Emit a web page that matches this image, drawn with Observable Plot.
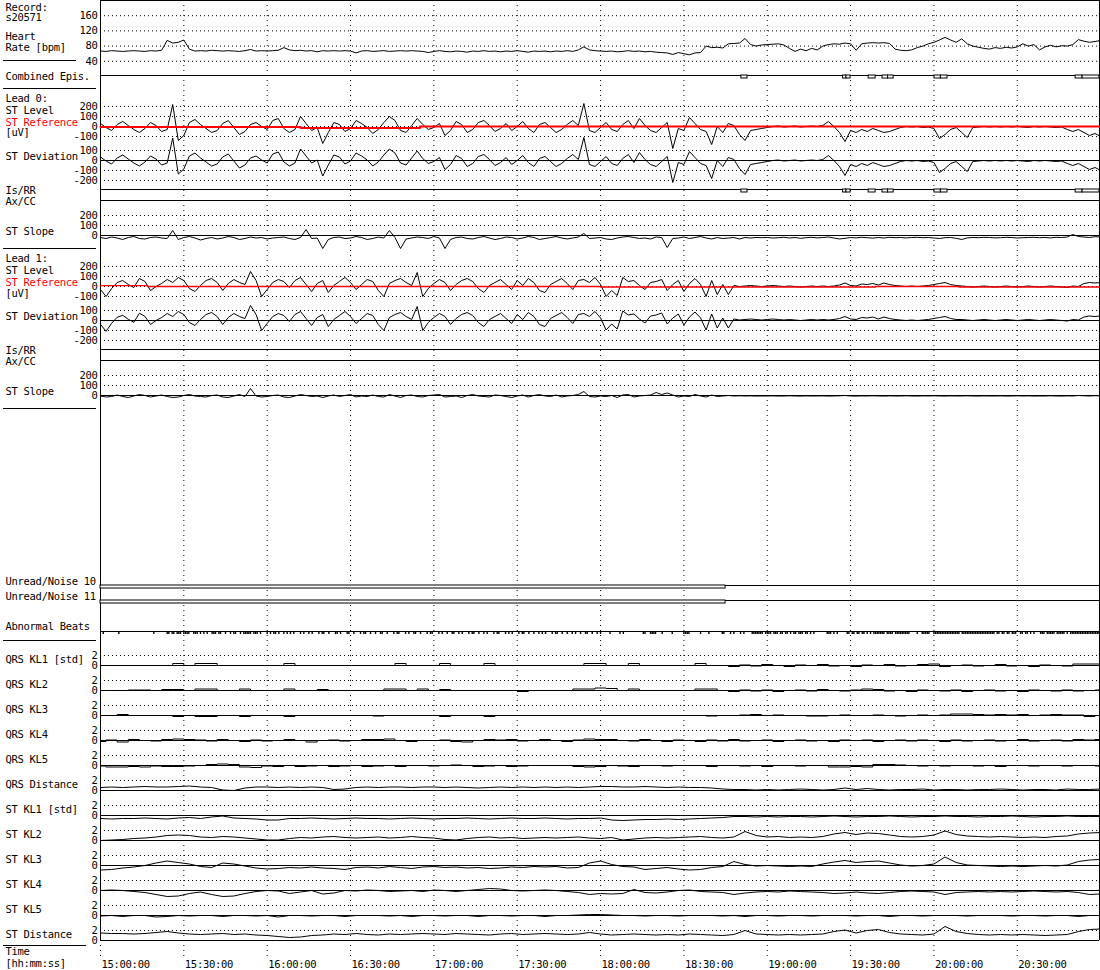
<!DOCTYPE html>
<html><head><meta charset="utf-8">
<script src="https://cdn.jsdelivr.net/npm/d3@7"></script>
<script src="https://cdn.jsdelivr.net/npm/@observablehq/plot@0.6"></script>
<style>
html,body{margin:0;padding:0;background:#fff;}
#chart{position:relative;width:1100px;height:970px;overflow:hidden;}
#chart svg{position:absolute;left:0;overflow:visible;background:transparent;}
</style></head><body><div id="chart"></div>
<script>
// ---------------- DATA ----------------
// time axis: minutes after 15:00:00
const TIME_TICKS = [0,30,60,90,120,150,180,210,240,270,300,330];
const TIME_TICK_LABELS = ["15:00:00","15:30:00","16:00:00","16:30:00","17:00:00","17:30:00","18:00:00","18:30:00","19:00:00","19:30:00","20:00:00","20:30:00"];
const TIME_END = 359.6;

// Heart rate [bpm], one value every 2 min
const HR_STEP = 2;
const HR_BPM = [
67,66,68,67,66,67,68,67,66,68, 67,69,95,88,90,96,72,67,68,67,
69,68,67,68,67,66,68,71,67,68, 67,68,69,76,70,68,69,67,68,65,
68,67,68,67,68,67,62,67,68,66, 67,68,66,67,68,67,68,67,66,63,
66,68,66,65,67,66,64,67,66,68, 66,67,65,67,66,68,66,64,67,66,
67,65,67,66,68,66,70,78,70,68, 67,66,67,65,66,68,66,67,65,66,
64,63,62,58,63,60,57,62,63,80, 76,77,75,86,87,88,100,84,80,83,
84,85,86,83,74,66,72,68,74,70, 80,84,86,85,88,86,69,86,88,89,
88,89,87,72,69,68,70,76,80,86, 90,96,103,96,90,99,86,80,77,74,
72,76,74,77,75,78,86,80,84,70, 78,82,78,81,80,84,97,93,90,92,
95];

// Combined episodes (also Lead 0 Is/RR Ax/CC), [start, end] minutes
const EPISODES = [[230.7,232.9],[267.3,268.5],[268.5,270],[276.5,279],[281.5,283.5],[283.5,285.5],[300.2,302.5],[302.5,304.9],[351,353.5],[353.5,359.6]];

// Lead 0 ST level [uV], every 2 min
const ST_STEP = 2;
const L0_ST_LEVEL = [
30,-10,-40,20,50,10,-30,-60,-20,40, 10,-50,-30,220,-140,-90,40,70,20,-20,
-60,-40,30,60,-10,-80,-50,20,40,0, -30,60,80,-20,-60,-30,100,30,-40,-10,
-170,-60,40,20,-50,-20,60,30,-10,-70, -30,40,100,60,-40,-60,10,80,20,-30,
-10,30,-90,-40,50,20,-60,-30,40,60, 10,-50,-20,30,-40,0,50,-20,-60,20,
40,-10,-60,-30,20,60,10,230,-40,-60, -10,40,-30,-50,20,60,-20,80,10,-40,
-60,-10,40,-220,-20,-40,90,30,-30,-50, -180,0,-60,30,10,-80,-140,-40,-30,-20,
-10,0,5,-5,0,5,-5,0,5,0, 10,50,0,-60,-150,-40,-60,-30,-50,-20,
-40,-60,-50,-30,-10,0,-5,0,-10,-5, -20,-120,-80,-30,-10,-60,-110,-10,-5,0,
-5,0,-5,0,-5,0,-5,-10,0,-5, 0,-5,-10,-5,-30,-50,-30,-60,-90,-70,
-100];
// Lead 0 ST reference (step changes)
const L0_REF_TIMES = [0,72,115,359.6];
const L0_REF_VALUES = [-5,-15,0,0];
// Lead 0 ST slope, every 2 min
const L0_ST_SLOPE = [
-20,-30,-15,-25,-40,-20,-10,-30,-35,-20, -15,-25,-30,50,-40,-20,-10,-25,-45,-30,
-20,-35,-25,-10,-20,-40,-30,-15,-25,-20, -35,-25,-20,-15,-30,-40,-20,60,-30,-25,
-130,-40,-20,-15,-30,-25,-10,-20,-40,-30, -15,-25,50,-20,-130,-35,-25,-15,-20,-30,
-10,-25,-130,-40,-20,-15,-30,-35,-20,-10, -25,-40,-30,-15,-20,-35,-25,-10,-20,-40,
-30,-20,-10,-25,-35,-25,-15,20,-30,-25, -20,-35,-40,-25,-15,-10,-20,-30,-25,-35,
-15,-20,-120,-30,-25,-15,-30,-20,-10,-25, -35,-20,-30,-25,-20,-35,-20,-25,-20,-22,
-20,-25,-22,-18,-25,-20,-28,-22,-18,-24, -20,-15,-25,-35,-28,-20,-24,-18,-22,-26,
-20,-25,-18,-22,-20,-24,-20,-18,-22,-20, -25,-30,-22,-20,-28,-40,-24,-20,-22,-18,
-20,-24,-22,-18,-20,-25,-22,-20,-18,-22, -20,-24,-18,-20,-15,10,-10,-15,-20,-12,
-15];

// Lead 1 ST level [uV], every 2 min
const L1_ST_LEVEL = [
-30,-100,-20,40,60,20,-10,80,50,-40, 0,30,70,40,90,60,-20,-50,10,60,
80,40,-40,30,70,40,20,150,60,-100, -30,40,70,50,-10,60,90,20,-50,30,
60,-60,10,50,90,40,-30,20,70,50, -40,-100,30,60,80,40,10,140,-100,-20,
30,70,40,-40,20,60,80,50,-20,-60, 10,40,70,20,-30,60,10,80,40,-40,
-60,20,50,80,30,-30,60,70,40,90, 20,-100,-40,-90,90,50,60,10,-30,40,
50,70,-40,20,60,-50,30,80,20,-100, 60,-80,20,-80,10,0,5,10,5,0,
5,10,5,0,5,0,-5,0,5,0, 5,0,5,15,35,10,5,25,20,30,
15,35,20,10,5,0,5,0,5,10, 20,30,40,20,10,5,0,-5,0,5,
0,-5,0,5,0,-5,0,5,0,-5, 0,5,0,-5,-10,5,0,30,40,35,
40];
const L1_REF_TIMES = [0,17,180,279,309,359.6];
const L1_REF_VALUES = [8,0,-5,0,-5,-5];
const L1_ST_SLOPE = [
-5,-15,-10,5,-10,-20,-5,10,0,-15, -5,5,-10,-20,-15,0,10,-5,-10,-15,
0,5,-15,-20,-5,10,-10,70,-5,-15, -10,0,5,-15,-20,-5,10,0,-10,-5,
-20,-5,5,-10,0,10,-15,-5,-10,5, -10,-15,10,-5,-20,0,5,-10,-15,0,
5,10,-15,-10,-5,-20,0,10,-5,-10, -15,5,0,-10,-20,-5,5,-15,0,10,
-5,-10,5,-15,-5,0,10,40,-10,-15, -5,-10,0,-20,5,10,-15,-5,0,5,
30,10,25,5,-15,-5,-10,10,-5,-15, 5,-10,-5,0,-5,-3,-5,-4,-6,-5,
-5,-4,-6,-5,-3,-5,-6,-4,-5,-5, -4,-6,-5,-3,0,-5,-6,-4,-5,-3,
-5,-6,-4,-5,-5,-3,-5,-6,-4,-5, -3,-5,-6,-4,-5,-5,-3,-5,-6,-4,
-5,-5,-4,-6,-5,-3,-5,-4,-6,-5, -5,-3,-5,-6,-4,-5,0,-3,-5,-2,
-4];

// Unread / noise intervals [start, end] minutes
const NOISE_L0 = [[0,225]];
const NOISE_L1 = [[0,225]];

// Abnormal beats, minutes
const ABNORMAL_BEATS = [
1.0,6.6,19.2,24.0,24.6,25.8,26.4,27.6,28.2,28.8,30.0,30.6,31.2,31.8,33.6,34.2,34.8,36.0,37.2,38.4,
40.2,40.8,41.4,42.6,43.2,45.0,46.8,48.0,48.6,50.4,51.6,52.2,52.8,53.4,54.0,55.2,55.8,56.4,57.6,60.0,
61.2,62.4,63.0,64.2,66.0,67.2,68.4,69.6,72.0,73.2,75.0,76.2,78.6,79.8,80.4,82.2,84.6,85.2,86.4,88.8,
89.4,91.2,93.6,94.8,95.4,97.2,99.0,100.8,101.4,103.2,105.6,106.8,107.4,109.8,111.0,112.8,113.4,115.2,117.6,118.8,
119.4,121.8,123.0,124.8,126.6,127.2,129.0,130.2,132.6,133.8,134.4,136.2,138.0,139.2,141.6,142.8,143.4,145.8,147.0,148.2,
150.6,151.8,152.4,154.2,156.0,157.8,159.0,160.2,162.6,163.8,164.4,166.2,168.0,169.8,171.0,172.8,174.6,175.2,177.0,178.8,
180.0,183.4,187.0,188.2,195.4,196.0,198.0,198.6,199.2,199.8,202.2,205.8,210.0,210.6,211.2,211.8,216.0,219.0,223.8,224.4,
226.8,228.0,230.4,231.6,234.6,235.2,235.8,236.4,237.0,237.6,238.2,239.4,240.0,240.6,241.2,242.4,243.0,243.6,244.8,245.4,
246.6,247.2,248.4,249.6,250.2,251.4,252.0,252.6,253.8,254.4,255.6,256.8,261.6,262.2,262.8,264.0,265.2,268.8,269.4,270.6,
271.2,272.4,273.0,274.2,274.8,276.0,277.2,278.4,279.0,279.6,280.2,280.8,281.4,282.0,283.2,283.8,284.4,285.0,286.2,286.8,
287.4,288.0,288.6,289.2,289.8,290.4,291.0,294.0,295.8,296.4,297.0,297.6,298.2,300.0,300.6,301.2,301.8,302.4,303.0,303.6,
304.2,304.8,305.4,306.0,306.6,307.2,307.8,308.4,309.0,310.2,310.8,311.4,312.0,312.6,313.2,313.8,314.4,315.0,315.6,316.2,
316.8,317.4,318.0,318.6,319.2,319.8,320.4,321.0,321.6,322.8,323.4,324.6,325.2,326.4,327.0,328.2,328.8,329.4,331.2,331.8,
333.0,333.6,334.8,336.0,338.4,339.0,339.6,340.8,341.4,342.0,342.6,343.2,344.4,345.0,345.6,346.2,346.8,348.0,349.2,349.8,
350.4,351.0,351.6,352.2,352.8,353.4,354.0,354.6,355.2,355.8,356.4,357.0,357.6,358.2,358.8,359.4];

// KL series [std], every 4 min
const KL_STEP = 4;
const QRS_KL1 = [0,0,0,0,0,0,0,0.4,0,0.4, 0.4,0,0,0,0,0,0,0.4,0,0, 0,0,0,0,0,0,0,0.4,0,0, 0,0.4,0,0,0,0.4,0,0,0,0, 0,0,0,0,0.4,0.4,0,0,0.4,0, 0,0,0,0,0.4,0,0,-0.2,0.1,-0.1, 0.2,0,-0.2,0.1,0,0.2,-0.1,0,-0.2,0.1, 0,0.2,-0.1,0,0.2,0.3,-0.2,0,0.1,-0.1, 0,0.2,-0.1,0,-0.2,0.1,0,-0.1,0.3,0.3, 0.3];
const QRS_KL2 = [0,0,0,0.1,0.1,0,0.2,0.2,0,0.3, 0.3,0,0,0.3,0,0,0,0.3,0,0, 0.2,0,0,0,0,0,0.3,0.3,0,0.3, 0,0.2,0,0,0,0,0,0,-0.2,0, 0,0,0,0.3,0.3,0.5,0.4,0,0.3,0, 0,0,0,0,0.3,0.3,0,-0.2,0.1,-0.1, 0.1,-0.2,0,0.1,-0.1,0.2,0,-0.1,0.1,0.3, 0.2,-0.1,0,-0.2,0.1,0,-0.1,0.1,-0.2,0, 0.1,-0.1,0,-0.2,0.1,0,-0.1,0.1,-0.1,0, 0.1];
const QRS_KL3 = [0,0,0.2,0,0,0,0,-0.2,0,-0.2, -0.2,0,0,-0.2,0,0,0,-0.2,0,0, 0,0,0,0,0,-0.1,0,0,0,0, 0,-0.2,0,0,0,-0.2,0,0,0,0, 0,0,0,0,0,0,0,0,0,0, 0,0,0,0,0,-0.1,0,0,0.1,0.2, 0,0.1,0,0,-0.1,-0.1,0,0.1,0,0, 0.1,0,-0.1,0,0.1,0,0.1,0.3,0.3,0.2, 0.1,0.2,0.1,0.2,0,0.1,0.2,0.1,0.1,-0.2, 0];
const QRS_KL4 = [-0.2,0.1,-0.3,0.2,0,-0.1,0.2,0.3,0.2,0.1, -0.1,0.2,0,-0.2,0.1,-0.1,0,0.2,0,-0.3, 0,0.1,-0.1,0,0.2,0.2,0.3,0,-0.2,0, 0,0.1,-0.2,-0.3,0,0.2,0.1,0.2,-0.1,0, 0.2,0,-0.2,0.1,0.3,0.2,0.2,0,-0.1,0.2, 0,-0.2,0.1,0,-0.2,0.1,-0.1,0.2,-0.1,0, 0.1,-0.2,0,0.1,-0.1,0,-0.2,0.1,0,0.1, -0.2,0,0.1,-0.1,0.1,0,-0.2,0.1,-0.1,0, 0.1,-0.1,0,0.2,-0.1,0,0.1,-0.1,0.2,0.1, 0.2];
const QRS_KL5 = [-0.1,-0.3,-0.3,-0.2,-0.3,-0.1,-0.2,-0.2,-0.1,0, 0.2,0.3,0.2,-0.3,-0.4,-0.1,-0.2,0,-0.2,-0.1, 0,-0.2,-0.1,0,-0.2,-0.1,0,-0.2,0,0, -0.1,0,0.1,0,-0.2,-0.1,0,-0.2,-0.1,0, 0,0,0,-0.2,-0.3,-0.2,0,-0.1,-0.2,0, 0,-0.1,0,0,0,-0.2,0,0,-0.1,0, -0.2,0,0,-0.1,0,0,-0.3,-0.3,-0.2,-0.3, 0.2,0.2,0.1,0,-0.1,0,-0.1,0,0,-0.1, 0,-0.2,0,0,-0.1,0,0,-0.1,0,0, -0.1];
const QRS_DIST = [0.6,0.7,0.6,0.7,0.8,0.7,0.7,0.8,0.9,0.7, 0.6,0.1,0,0.5,0.7,0.7,0.6,0.7,0.6,0.7, 0.6,0.2,0.3,0.6,0.7,0.6,0.7,0.7,0.6,0.7, 0.7,0.6,0.7,0.6,0.5,0.6,0.7,0.6,0.7,0.6, 0.7,0.6,0.7,0.6,0.7,0.8,0.8,0.7,0.7,0.8, 0.7,0.6,0.7,0.6,0.6,0.5,0.3,0.2,0.2,0.1, 0.2,0.1,0.2,0.3,0.2,0.1,0.2,0.5,0.2,0.4, 0.2,0.1,0.2,0.2,0.3,0.1,0.2,0.2,0.1,0.2, 0.2,0.3,0.2,0.1,0.2,0.2,0.1,0.3,0.2,0.2, 0.3];
const ST_KL1 = [-0.6,-0.7,-0.6,-0.6,-0.5,-0.6,-0.7,-0.5,-0.4,-0.6, -0.3,-0.1,-0.5,-0.6,-0.7,-0.9,-0.9,-0.6,-0.6,-0.5, -0.6,-0.7,-0.6,-0.5,-0.6,-0.6,-0.7,-0.6,-0.5,-0.6, -0.7,-0.6,-0.6,-0.5,-0.6,-0.7,-0.6,-0.5,-0.6,-0.6, -0.5,-0.6,-0.7,-0.6,-0.6,-0.5,-0.9,-1.0,-0.9,-0.8, -0.8,-0.7,-0.8,-0.7,-0.6,-0.5,-0.4,-0.2,-0.2,-0.3, -0.2,-0.3,-0.2,-0.2,-0.3,-0.2,-0.1,-0.2,-0.3,-0.2, -0.2,-0.1,-0.2,-0.3,-0.2,-0.2,-0.1,-0.2,-0.2,-0.3, -0.2,-0.2,-0.1,-0.2,-0.3,-0.2,-0.2,-0.1,-0.2,-0.2, -0.2];
const ST_KL2 = [0,0.1,0.2,0.4,0.5,0.7,1.0,1.1,1.0,0.7, 0.6,0.8,0.7,0.5,0.3,0.1,0.1,0.4,0.6,0.5, 0.7,0.8,0.6,0.5,0.6,0.7,0.5,0.6,0.8,0.6, 0.5,0.2,0.1,0.4,0.6,0.7,0.5,0.6,0.4,0.5, 0.6,0.5,0.6,0.7,0.5,0.4,0.6,0.1,0.3,0.5, 0.6,0.5,0.6,0.7,0.8,0.6,0.5,0.7,1.8,1.0, 0.7,0.8,0.6,0.7,0.6,0.8,1.3,1.6,1.2,1.5, 1.4,1.1,0.8,0.7,0.8,1.1,1.9,1.2,0.9,0.8, 0.7,0.8,0.7,0.6,0.7,0.6,0.8,0.9,1.3,1.5, 1.6];
const ST_KL3 = [-0.9,-0.8,-0.5,-0.3,0,0.5,0.9,0.6,0.3,-0.2, -0.4,0.5,0.3,-0.1,-0.5,-0.7,-0.6,-0.4,-0.5,-0.3, -0.5,-0.6,-0.8,-0.4,-0.3,-0.5,-0.2,-0.4,-0.6,-0.3, -0.2,-0.4,-0.3,-0.5,-0.4,-0.6,-0.5,-0.3,-0.4,-0.2, -0.3,-0.2,-0.5,-0.4,0.5,0.9,0.2,-0.2,-0.3,-0.8, -0.6,-0.4,-0.7,-0.9,-0.8,-0.4,-0.2,0.8,0.2,-0.1, 0,-0.1,-0.2,-0.1,-0.2,0.3,0.7,1.0,0.6,0.8, 0.9,0.5,0.1,-0.1,0,0.3,1.7,0.6,0.1,0, -0.1,-0.2,-0.1,-0.2,-0.1,0,-0.1,0.1,0.8,1.1, 1.2];
const ST_KL4 = [0,0.1,0,-0.2,-0.4,-0.8,-1.2,-1.1,-0.6,-0.3, -0.8,-1.2,-1.1,-0.6,-0.2,0,-0.1,-0.6,-0.3,0, -0.7,-0.5,0,-0.1,0.1,0,-0.2,-0.1,0,-0.2, 0.1,0,-0.2,0,0.2,0.4,0.3,0,-0.1,0, 0.1,0,-0.2,-0.4,-0.8,-0.6,-0.7,-0.6,0.2,-0.4, -0.5,-0.3,0,0.1,-0.2,-0.3,-0.4,-0.8,-0.5,-0.3, -0.2,-0.3,-0.1,-0.2,-0.3,-0.4,-0.6,-0.5,-0.3,-0.5, -0.6,-0.4,-0.2,-0.1,-0.2,-0.3,-0.8,-0.4,-0.3,-0.2, -0.3,-0.2,-0.3,-0.2,-0.1,-0.2,-0.3,-0.2,-0.4,-0.8, -0.7];
const ST_KL5 = [-0.1,0,-0.2,0,0,-0.3,-0.2,0,-0.1,0, 0,-0.2,0,0,-0.1,0,-0.3,0,0,-0.1, 0,0,-0.2,0,0,0,-0.1,0,-0.2,0, 0,-0.1,0,0,-0.2,0,0,-0.1,0,0, -0.2,0,0,0.1,0.2,0.2,0.1,0,0,-0.1, 0,0,-0.1,0,0,0,-0.1,0,-0.2,0, 0,-0.1,0,0,-0.1,0,0,0,-0.1,0, 0,-0.2,0,0,-0.1,0,0,0,-0.1,0, 0,0,-0.1,0,0,-0.1,0,0,-0.2,0, 0];
const ST_DIST = [1.5,1.4,1.4,1.3,1.4,1.6,1.8,1.5,1.3,1.2, 1.3,1.4,1.2,1.3,1.1,1.0,0.8,0.6,0.7,1.0, 1.1,1.3,1.2,1.4,1.2,1.1,1.3,1.2,1.3,1.4, 1.3,1.2,1.4,1.3,1.2,1.1,1.3,1.4,1.2,1.3, 1.4,1.3,1.2,1.3,1.6,1.3,1.1,1.2,1.3,1.2, 1.1,1.2,1.1,1.3,1.2,1.1,1.0,1.2,2.0,1.3, 1.2,1.1,1.2,1.1,1.2,1.3,1.8,2.1,1.5,2.0, 2.2,1.6,1.3,1.2,1.1,1.3,2.8,1.8,1.4,1.2, 1.1,1.2,1.1,1.2,1.1,1.0,1.1,1.2,1.8,2.2, 2.3];
const KL_NAMES = ["QRS KL1 [std]","QRS KL2","QRS KL3","QRS KL4","QRS KL5","QRS Distance","ST KL1 [std]","ST KL2","ST KL3","ST KL4","ST KL5","ST Distance"];
const KL_SERIES = [QRS_KL1,QRS_KL2,QRS_KL3,QRS_KL4,QRS_KL5,QRS_DIST,ST_KL1,ST_KL2,ST_KL3,ST_KL4,ST_KL5,ST_DIST];
const KL_IS_QRS = [true,true,true,true,true,false,false,false,false,false,false,false];

// ---------------- LAYOUT (page pixels) ----------------
const FONT_STYLE = {fontFamily: "'DejaVu Sans Mono', monospace", fontSize: "10.5px", letterSpacing: "-0.3px", background: "transparent", overflow: "visible", color: "#000"};
const LEFT_TEXT = [
  ["Record:",7],["s20571",17],["Heart",36],["Rate [bpm]",47],["Combined Epis.",76],
  ["Lead 0:",98],["ST Level",110],["[uV]",132],["ST Deviation",156],["Is/RR",190],["Ax/CC",201],["ST Slope",231],
  ["Lead 1:",258],["ST Level",270],["[uV]",293],["ST Deviation",316],["Is/RR",350],["Ax/CC",361],["ST Slope",391],
  ["Unread/Noise 10",581],["Unread/Noise 11",596],["Abnormal Beats",626],
  ["Time",951],["[hh:mm:ss]",963]
];
const LEFT_RED_TEXT = [["ST Reference",122],["ST Reference",282]];
const SEPARATORS = [[60,76],[88,96],[248,96],[408,96],[640,96],[945,86]];
const KL_ZERO_TOP = 665, KL_SPACING = 25;

// ---------------- DRAW ----------------
const chart = document.getElementById("chart");
function place(svg, top) { svg.style.top = top + "px"; chart.appendChild(svg); }
const xScale = {domain: [0, TIME_END], axis: null};
const base = {width: 1100, marginLeft: 100, marginRight: 1, marginTop: 0, marginBottom: 0, style: FONT_STYLE, x: xScale};
const series = (vals, step) => vals.map((v, i) => ({t: i * step, v}));
const refSeries = (ts, vs) => ts.map((t, i) => ({t, v: vs[i]}));
function refAt(ts, vs, t) { let v = vs[0]; for (let i = 0; i < ts.length; i++) if (ts[i] <= t) v = vs[i]; return v; }

// background: frame and time grid
place(Plot.plot({
  ...base, height: 970, y: {type: "identity", axis: null},
  marks: [
    Plot.ruleX(TIME_TICKS, {y1: 0, y2: 958, stroke: "#000", strokeDasharray: "1,4"}),
    Plot.ruleX([0, TIME_END], {y1: 0, y2: 940, stroke: "#000"}),
    Plot.text(TIME_TICKS, {x: d => d, y: 964, text: (d, i) => TIME_TICK_LABELS[i], textAnchor: "start", dx: 1, fill: "#000"})
  ]
}), 0);

// left labels
place(Plot.plot({
  width: 100, height: 970, margin: 0, style: FONT_STYLE,
  x: {type: "identity", axis: null}, y: {type: "identity", axis: null},
  marks: [
    Plot.text(LEFT_TEXT, {x: 5, y: d => d[1], text: d => d[0], textAnchor: "start", fill: "#000"}),
    Plot.text(LEFT_RED_TEXT, {x: 5, y: d => d[1], text: d => d[0], textAnchor: "start", fill: "#ff0000"}),
    Plot.text(KL_NAMES, {x: 5, y: (d, i) => KL_ZERO_TOP + KL_SPACING * i - 6, text: d => d, textAnchor: "start", fill: "#000"}),
    Plot.ruleY(SEPARATORS, {y: d => d[0], x1: 3, x2: d => d[1], stroke: "#000"})
  ]
}), 0);

function tickLabels(ticks) {
  return Plot.text(ticks, {y: d => d, text: d => String(d), frameAnchor: "left", dx: -3, textAnchor: "end", fill: "#000"});
}
function valuePanel({top, height, domain, ticks, dotted = [], solid = [], marks = []}) {
  place(Plot.plot({
    ...base, height, y: {domain, axis: null},
    marks: [
      Plot.ruleY(dotted, {stroke: "#000", strokeDasharray: "1,3"}),
      Plot.ruleY(solid, {stroke: "#000"}),
      tickLabels(ticks),
      ...marks
    ]
  }), top);
}
function stripPanel({top, height, lines = [0], rects = [], rectH = 3, beats = null}) {
  const marks = [Plot.ruleY(lines, {stroke: "#000"})];
  if (rects.length) marks.push(Plot.rect(rects, {x1: d => d[0], x2: d => d[1], y1: 0, y2: rectH, fill: "#fff", stroke: "#000"}));
  if (beats) marks.push(Plot.ruleX(beats, {y1: 0, y2: rectH, stroke: "#000", strokeWidth: 1.4}));
  place(Plot.plot({...base, height, y: {domain: [0, height], reverse: true, axis: null}, marks}), top);
}
const trace = (data, opts = {}) => Plot.line(data, {x: "t", y: "v", stroke: "#000", strokeWidth: 1, ...opts});

// Heart rate
valuePanel({top: 0, height: 76, domain: [0, 200], ticks: [160, 120, 80, 40], dotted: [160, 120, 80, 40], solid: [200],
  marks: [trace(series(HR_BPM, HR_STEP))]});
// Combined episodes
stripPanel({top: 75, height: 4, rects: EPISODES});

// Lead 0 / Lead 1
function leadPanels(o, level, refT, refV, slope, epis, refW) {
  const lev = series(level, ST_STEP);
  const dev = lev.map(d => ({t: d.t, v: d.v - refAt(refT, refV, d.t)}));
  valuePanel({top: o, height: 35, domain: [-100, 250], ticks: [200, 100, 0, -100], dotted: [200, 100, 0, -100],
    marks: [trace(lev), Plot.line(refSeries(refT, refV), {x: "t", y: "v", stroke: "#ff0000", strokeWidth: refW, curve: "step-after"})]});
  valuePanel({top: o + 49, height: 30, domain: [-200, 100], ticks: [100, 0, -100, -200], dotted: [100, -100, -200], solid: [0],
    marks: [trace(dev)]});
  stripPanel({top: o + 88, height: 11, lines: [0, 11], rects: epis});
  valuePanel({top: o + 109, height: 25, domain: [0, 250], ticks: [200, 100, 0], dotted: [200, 100], solid: [0],
    marks: [trace(series(slope, ST_STEP))]});
}
leadPanels(101, L0_ST_LEVEL, L0_REF_TIMES, L0_REF_VALUES, L0_ST_SLOPE, EPISODES, 2);
leadPanels(261, L1_ST_LEVEL, L1_REF_TIMES, L1_REF_VALUES, L1_ST_SLOPE, [], 1.3);

// Unread / noise, abnormal beats
stripPanel({top: 585, height: 4, rects: NOISE_L0});
stripPanel({top: 600, height: 4, rects: NOISE_L1});
stripPanel({top: 631, height: 4, beats: ABNORMAL_BEATS});

// KL panels
KL_SERIES.forEach((vals, i) => {
  const zero = KL_ZERO_TOP + KL_SPACING * i;
  valuePanel({top: zero - 15, height: 15, domain: [0, 3], ticks: [2, 0], dotted: [2], solid: [0],
    marks: [trace(series(vals, KL_STEP), {curve: KL_IS_QRS[i] ? "step" : "linear"})]});
});
</script></body></html>
